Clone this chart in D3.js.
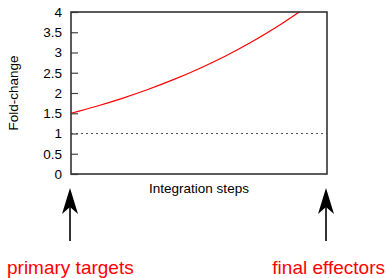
<!DOCTYPE html>
<html>
<head>
<meta charset="utf-8">
<script src="https://cdn.jsdelivr.net/npm/d3@7"></script>
<style>
  body { margin: 0; background: #fff; }
  text { font-family: "Liberation Sans", Arial, sans-serif; }
</style>
</head>
<body>
<script>
// integration step (0 = primary targets, 1 = final effectors) and fold-change
var steps = [0, 0.1, 0.2, 0.3, 0.4, 0.5, 0.6, 0.7, 0.8, 0.9];
var foldChange = [1.5, 1.674, 1.869, 2.087, 2.329, 2.6, 2.902, 3.24, 3.616, 4.037];
var baseline = 1;
var yTicks = [0, 0.5, 1, 1.5, 2, 2.5, 3, 3.5, 4];
var endLabels = ["primary targets", "final effectors"];

var width = 386, height = 278;
var plotLeft = 71, plotRight = 327, plotTop = 12, plotBottom = 174;

var svg = d3.select("body").append("svg")
    .attr("width", width)
    .attr("height", height);

var x = d3.scaleLinear().domain([0, 1]).range([plotLeft, plotRight]);
var y = d3.scaleLinear().domain([0, 4]).range([plotBottom, plotTop]);

svg.append("defs").append("clipPath")
    .attr("id", "plotclip")
  .append("rect")
    .attr("x", plotLeft).attr("y", plotTop)
    .attr("width", plotRight - plotLeft).attr("height", plotBottom - plotTop);

// dotted reference line at fold-change 1
svg.append("line")
    .attr("x1", x(0)).attr("x2", x(1))
    .attr("y1", y(baseline)).attr("y2", y(baseline))
    .attr("stroke", "#555")
    .attr("stroke-width", 1.2)
    .attr("stroke-dasharray", "2,3");

var line = d3.line()
    .x(function (d, i) { return x(steps[i]); })
    .y(function (d) { return y(d); })
    .curve(d3.curveMonotoneX);

svg.append("path")
    .datum(foldChange)
    .attr("clip-path", "url(#plotclip)")
    .attr("fill", "none")
    .attr("stroke", "#ff0000")
    .attr("stroke-width", 1.2)
    .attr("d", line);

// y axis with inward ticks
var yAxis = svg.append("g")
    .attr("transform", "translate(" + plotLeft + ",0)")
    .call(d3.axisRight(y).tickValues(yTicks).tickSize(7).tickFormat(d3.format("")));
yAxis.select(".domain").remove();
yAxis.selectAll(".tick line").attr("stroke", "#444").attr("stroke-width", 1.2);
yAxis.selectAll(".tick text")
    .attr("x", -9)
    .attr("text-anchor", "end")
    .attr("fill", "#000")
    .style("font-size", "13.5px");

// frame
svg.append("rect")
    .attr("x", plotLeft).attr("y", plotTop)
    .attr("width", plotRight - plotLeft).attr("height", plotBottom - plotTop)
    .attr("fill", "none")
    .attr("stroke", "#333")
    .attr("stroke-width", 1.6);

svg.append("text")
    .attr("x", (plotLeft + plotRight) / 2)
    .attr("y", 193)
    .attr("text-anchor", "middle")
    .style("font-size", "13.5px")
    .text("Integration steps");

svg.append("text")
    .attr("transform", "translate(18," + ((plotTop + plotBottom) / 2) + ") rotate(-90)")
    .attr("text-anchor", "middle")
    .style("font-size", "13.5px")
    .text("Fold-change");

// arrows pointing at both ends of the x range
var ends = [0, 1];
var arrows = svg.selectAll(".arrow")
    .data(ends)
    .enter().append("g")
    .attr("class", "arrow")
    .attr("transform", function (d) { return "translate(" + (x(d) - 1) + ",0)"; });

arrows.append("line")
    .attr("x1", 0).attr("x2", 0)
    .attr("y1", 241).attr("y2", 205)
    .attr("stroke", "#000")
    .attr("stroke-width", 1.6);

arrows.append("path")
    .attr("d", "M0,188 L8,214 L0,207 L-8,214 Z")
    .attr("fill", "#000");

svg.selectAll(".endlabel")
    .data(endLabels)
    .enter().append("text")
    .attr("class", "endlabel")
    .attr("x", function (d, i) { return i == 0 ? 7 : 385; })
    .attr("y", 274)
    .attr("text-anchor", function (d, i) { return i == 0 ? "start" : "end"; })
    .attr("fill", "#ff0000")
    .style("font-size", "19px")
    .text(String);
</script>
</body>
</html>
